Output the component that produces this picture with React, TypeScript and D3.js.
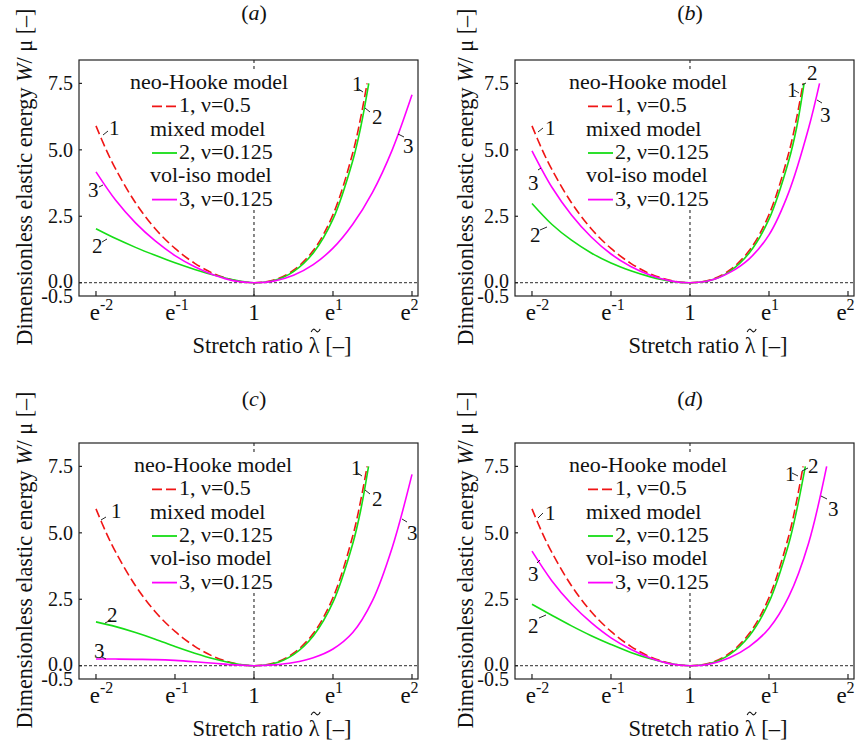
import React, { useEffect, useRef } from 'react';
import * as d3 from 'd3';

// ---------- data (x values are ln of the stretch ratio) ----------
const T_LEFT = [-2, -1.75, -1.5, -1.25, -1, -0.75, -0.5, -0.25, 0];

const NEO_T = [-2, -1.875, -1.75, -1.5, -1.25, -1, -0.75, -0.5, -0.25, 0, 0.25, 0.5, 0.75, 1, 1.25, 1.35, 1.432];
const NEO_W = [5.9, 5.03, 4.27, 3.01, 2.03, 1.29, 0.73, 0.33, 0.09, 0, 0.10, 0.47, 1.21, 2.56, 4.88, 6.2, 7.5];

const A_MIXED_T = [...T_LEFT, 0.25, 0.5, 0.75, 1, 1.25, 1.35, 1.453];
const A_MIXED_W = [2.03, 1.66, 1.33, 1.03, 0.75, 0.5, 0.28, 0.1, 0, 0.08, 0.42, 1.12, 2.39, 4.59, 5.84, 7.5];
const A_VOLISO_T = [...T_LEFT, 0.25, 0.5, 0.75, 1, 1.25, 1.5, 1.75, 2];
const A_VOLISO_W = [4.17, 3.1, 2.25, 1.57, 1.02, 0.6, 0.28, 0.07, 0, 0.06, 0.28, 0.68, 1.3, 2.2, 3.4, 5.0, 7.07];

const B_MIXED_T = [...T_LEFT, 0.25, 0.5, 0.75, 1, 1.25, 1.35, 1.444];
const B_MIXED_W = [2.98, 2.2, 1.6, 1.12, 0.74, 0.45, 0.22, 0.06, 0, 0.08, 0.42, 1.12, 2.39, 4.59, 5.84, 7.5];
const B_VOLISO_T = [...T_LEFT, 0.25, 0.5, 0.75, 1, 1.25, 1.5, 1.64];
const B_VOLISO_W = [4.96, 3.6, 2.55, 1.72, 1.08, 0.61, 0.28, 0.07, 0, 0.08, 0.38, 0.9, 1.8, 3.4, 5.8, 7.5];

const C_MIXED_T = [...T_LEFT, 0.25, 0.5, 0.75, 1, 1.25, 1.35, 1.45];
const C_MIXED_W = [1.65, 1.47, 1.25, 1.0, 0.72, 0.47, 0.25, 0.08, 0, 0.08, 0.42, 1.12, 2.39, 4.59, 5.84, 7.5];
const C_VOLISO_T = [...T_LEFT, 0.25, 0.5, 0.75, 1, 1.25, 1.5, 1.75, 2];
const C_VOLISO_W = [0.25, 0.25, 0.24, 0.23, 0.2, 0.15, 0.09, 0.03, 0, 0.03, 0.12, 0.3, 0.63, 1.25, 2.45, 4.45, 7.2];

const D_MIXED_T = [...T_LEFT, 0.25, 0.5, 0.75, 1, 1.25, 1.35, 1.46];
const D_MIXED_W = [2.31, 1.9, 1.5, 1.13, 0.8, 0.5, 0.26, 0.08, 0, 0.08, 0.42, 1.12, 2.39, 4.59, 5.84, 7.5];
const D_VOLISO_T = [...T_LEFT, 0.25, 0.5, 0.75, 1, 1.25, 1.5, 1.73];
const D_VOLISO_W = [4.31, 3.2, 2.32, 1.62, 1.05, 0.62, 0.29, 0.07, 0, 0.06, 0.3, 0.72, 1.4, 2.6, 4.6, 7.5];

const X_TICKS = [-2, -1, 0, 1, 2];
const X_TICK_BASE = ['e', 'e', '1', 'e', 'e'];
const X_TICK_SUP = ['-2', '-1', '', '1', '2'];
const Y_TICKS = [-0.5, 0, 2.5, 5, 7.5];
const Y_TICK_LABELS = ['-0.5', '0.0', '2.5', '5.0', '7.5'];
const X_DOMAIN = [-2.215, 2.076];
const Y_DOMAIN = [-0.5, 8.38];

const LEGEND_HEADINGS = ['neo-Hooke model', 'mixed model', 'vol-iso model'];
const LEGEND_ENTRIES = ['1, \u03bd=0.5', '2, \u03bd=0.125', '3, \u03bd=0.125'];
const PANEL_TITLES = ['a', 'b', 'c', 'd'];

// ---------- styles / layout ----------
const FONT = '"Liberation Serif", Tinos, "DejaVu Serif", "Noto Serif", serif';
const COLORS = ['#f01515', '#16dd16', '#ff00ff'];
const DASHES = ['9,4', null, null];
const X_LABEL_SHIFT = [5.5, 2, 0, 1, -2.5];

type Lbl = { text: string; tx: number; ty: number; l: [number, number, number, number] };

const PANELS = [
  {
    dx: 0, dy: 0, titleY: 20, ylabX: 31.5, headX: 51,
    series: [[NEO_T, NEO_W], [A_MIXED_T, A_MIXED_W], [A_VOLISO_T, A_VOLISO_W]],
    labels: [
      { text: '1', tx: 30, ty: 75, l: [24, 75, 29, 71] },
      { text: '3', tx: 9, ty: 137, l: [20, 127, 24, 125] },
      { text: '2', tx: 13, ty: 193, l: [23, 182, 28, 179] },
      { text: '1', tx: 273, ty: 31, l: [278, 28, 284, 32] },
      { text: '2', tx: 293, ty: 64, l: [286, 48, 291, 52] },
      { text: '3', tx: 324, ty: 93, l: [319, 74, 325, 77] },
    ] as Lbl[],
  },
  {
    dx: 436, dy: 0, titleY: 20, ylabX: 472.5 - 436, headX: 54,
    series: [[NEO_T, NEO_W], [B_MIXED_T, B_MIXED_W], [B_VOLISO_T, B_VOLISO_W]],
    labels: [
      { text: '1', tx: 30, ty: 75, l: [23, 72, 28, 68] },
      { text: '3', tx: 13, ty: 130, l: [23, 110, 26, 108] },
      { text: '2', tx: 15, ty: 182, l: [25, 170, 32, 167] },
      { text: '1', tx: 272, ty: 37, l: [279, 30, 284, 33] },
      { text: '2', tx: 292, ty: 20, l: [287, 25, 291, 23] },
      { text: '3', tx: 305, ty: 62, l: [302, 40, 307, 43] },
    ] as Lbl[],
  },
  {
    dx: 0, dy: 383, titleY: 406 - 383, ylabX: 31.5, headX: 55,
    series: [[NEO_T, NEO_W], [C_MIXED_T, C_MIXED_W], [C_VOLISO_T, C_VOLISO_W]],
    labels: [
      { text: '1', tx: 32, ty: 75, l: [22, 77, 27, 74] },
      { text: '2', tx: 28, ty: 179, l: [26, 180, 32, 177] },
      { text: '3', tx: 15, ty: 215, l: [23, 214, 27, 216] },
      { text: '1', tx: 272, ty: 32, l: [277, 29, 283, 33] },
      { text: '2', tx: 293, ty: 63, l: [286, 47, 291, 51] },
      { text: '3', tx: 328, ty: 97, l: [323, 76, 328, 79] },
    ] as Lbl[],
  },
  {
    dx: 436, dy: 383, titleY: 406 - 383, ylabX: 472.5 - 436, headX: 54,
    series: [[NEO_T, NEO_W], [D_MIXED_T, D_MIXED_W], [D_VOLISO_T, D_VOLISO_W]],
    labels: [
      { text: '1', tx: 30, ty: 77, l: [23, 75, 28, 70] },
      { text: '3', tx: 13, ty: 138, l: [22, 120, 25, 117] },
      { text: '2', tx: 13, ty: 190, l: [24, 175, 31, 172] },
      { text: '1', tx: 270, ty: 38, l: [277, 30, 283, 33] },
      { text: '2', tx: 293, ty: 30, l: [287, 28, 293, 25] },
      { text: '3', tx: 313, ty: 73, l: [306, 53, 312, 56] },
    ] as Lbl[],
  },
];

const BOX = { left: 79, right: 418, top: 60, bottom: 296 };

function txt(sel: any, size: number) {
  return sel.style('font-family', FONT).style('font-size', `${size}px`).attr('fill', '#111');
}

export default function App() {
  const ref = useRef<SVGSVGElement>(null);

  useEffect(() => {
    const svg = d3.select(ref.current);
    svg.selectAll('*').remove();
    svg.append('rect').attr('width', 855).attr('height', 745).attr('fill', '#fff');

    PANELS.forEach((p, pi) => {
      const g = svg.append('g').attr('transform', `translate(${p.dx},${p.dy})`);
      const x = d3.scaleLinear().domain(X_DOMAIN).range([BOX.left, BOX.right]);
      const y = d3.scaleLinear().domain(Y_DOMAIN).range([BOX.bottom, BOX.top]);

      // reference lines
      g.append('line')
        .attr('x1', x(0)).attr('x2', x(0)).attr('y1', BOX.top).attr('y2', BOX.bottom)
        .attr('stroke', '#111').attr('stroke-width', 1).attr('stroke-dasharray', '3,3');
      g.append('line')
        .attr('x1', BOX.left).attr('x2', BOX.right).attr('y1', y(0)).attr('y2', y(0))
        .attr('stroke', '#555').attr('stroke-width', 1.3).attr('stroke-dasharray', '3,2');

      // legend background
      g.append('rect')
        .attr('x', BOX.left + 66).attr('y', BOX.top + 9)
        .attr('width', 153).attr('height', 138).attr('fill', '#fff');

      // curves
      const line = d3.line<[number, number]>()
        .x(d => x(d[0])).y(d => y(d[1]))
        .curve(d3.curveCatmullRom.alpha(0.5));
      p.series.forEach((s, si) => {
        const pts: [number, number][] = (s[0] as number[]).map((t, i) => [t, (s[1] as number[])[i]]);
        const path = g.append('path')
          .attr('d', line(pts) as string)
          .attr('fill', 'none')
          .attr('stroke', COLORS[si])
          .attr('stroke-width', 1.6);
        if (DASHES[si]) path.attr('stroke-dasharray', DASHES[si] as string);
      });

      // legend
      const rowY = [29, 52.3, 75.6, 99, 122.3, 145.6];
      LEGEND_HEADINGS.forEach((h, i) => {
        txt(g.append('text'), 22)
          .attr('x', BOX.left + (i === 0 ? p.headX : 71))
          .attr('y', BOX.top + rowY[i * 2])
          .text(h);
        const ly = BOX.top + rowY[i * 2 + 1] - 6;
        const l = g.append('line')
          .attr('x1', BOX.left + 73).attr('x2', BOX.left + 98)
          .attr('y1', ly).attr('y2', ly)
          .attr('stroke', COLORS[i]).attr('stroke-width', 1.8);
        if (DASHES[i]) l.attr('stroke-dasharray', '10,4');
        txt(g.append('text'), 22)
          .attr('x', BOX.left + 100)
          .attr('y', BOX.top + rowY[i * 2 + 1])
          .text(LEGEND_ENTRIES[i]);
      });

      // frame
      g.append('rect')
        .attr('x', BOX.left).attr('y', BOX.top)
        .attr('width', BOX.right - BOX.left).attr('height', BOX.bottom - BOX.top)
        .attr('fill', 'none').attr('stroke', '#222').attr('stroke-width', 1.2);

      // ticks
      X_TICKS.forEach((t, i) => {
        g.append('line')
          .attr('x1', x(t)).attr('x2', x(t)).attr('y1', BOX.bottom).attr('y2', BOX.bottom - 5)
          .attr('stroke', '#222').attr('stroke-width', 1.2);
        const tx = txt(g.append('text'), 23)
          .attr('x', x(t) + X_LABEL_SHIFT[i]).attr('y', BOX.bottom + 24)
          .attr('text-anchor', 'middle');
        tx.append('tspan').text(X_TICK_BASE[i]);
        if (X_TICK_SUP[i]) {
          tx.append('tspan').style('font-size', '16px').attr('dy', -10).text(X_TICK_SUP[i]);
        }
      });
      Y_TICKS.forEach((v, i) => {
        if (v > -0.5) {
          g.append('line')
            .attr('x1', BOX.left).attr('x2', BOX.left + 3).attr('y1', y(v)).attr('y2', y(v))
            .attr('stroke', '#222').attr('stroke-width', 1.2);
        }
        txt(g.append('text'), 20)
          .attr('x', BOX.left - 6).attr('y', y(v) + (v === 0 ? -1.5 : 0)).attr('dy', '0.35em')
          .attr('text-anchor', 'end')
          .text(Y_TICK_LABELS[i]);
      });

      // curve labels
      p.labels.forEach(lb => {
        txt(g.append('text'), 21)
          .attr('x', BOX.left + lb.tx).attr('y', BOX.top + lb.ty)
          .text(lb.text);
        g.append('line')
          .attr('x1', BOX.left + lb.l[0]).attr('y1', BOX.top + lb.l[1])
          .attr('x2', BOX.left + lb.l[2]).attr('y2', BOX.top + lb.l[3])
          .attr('stroke', '#111').attr('stroke-width', 0.9);
      });

      // title
      const tt = txt(g.append('text'), 22)
        .attr('x', BOX.left + 175).attr('y', p.titleY)
        .attr('text-anchor', 'middle');
      tt.append('tspan').text('(');
      tt.append('tspan').style('font-style', 'italic').text(PANEL_TITLES[pi]);
      tt.append('tspan').text(')');

      // x axis label
      const xl = txt(g.append('text'), 22.5)
        .attr('x', BOX.left + 193).attr('y', 353)
        .attr('text-anchor', 'middle')
        .text('Stretch ratio \u03bb [\u2013]');
      const node = xl.node() as SVGTextElement;
      let cx = BOX.left + 233;
      try {
        const s = node.getStartPositionOfChar(14).x;
        const e = node.getEndPositionOfChar(14).x;
        if (isFinite(s) && isFinite(e)) cx = (s + e) / 2 + 1.5;
      } catch (err) { /* ignore */ }
      const tp = d3.path();
      tp.moveTo(cx - 4.5, 332);
      tp.bezierCurveTo(cx - 3, 328.5, cx - 1.5, 328.5, cx, 330.5);
      tp.bezierCurveTo(cx + 1.5, 332.5, cx + 3, 332.5, cx + 4.5, 329);
      g.append('path').attr('d', tp.toString()).attr('fill', 'none')
        .attr('stroke', '#111').attr('stroke-width', 1.1);

      // y axis label
      const yl = txt(g.append('text'), 22.5)
        .attr('transform', `translate(${p.ylabX},177) rotate(-90)`)
        .attr('text-anchor', 'middle')
        .attr('textLength', 337).attr('lengthAdjust', 'spacingAndGlyphs');
      yl.append('tspan').text('Dimensionless elastic energy ');
      yl.append('tspan').style('font-style', 'italic').text('W');
      yl.append('tspan').text('/ \u03bc [\u2013]');
    });
  }, []);

  return (
    <svg
      ref={ref}
      width={855}
      height={745}
      style={{ position: 'absolute', left: 0, top: 0, display: 'block' }}
    />
  );
}
